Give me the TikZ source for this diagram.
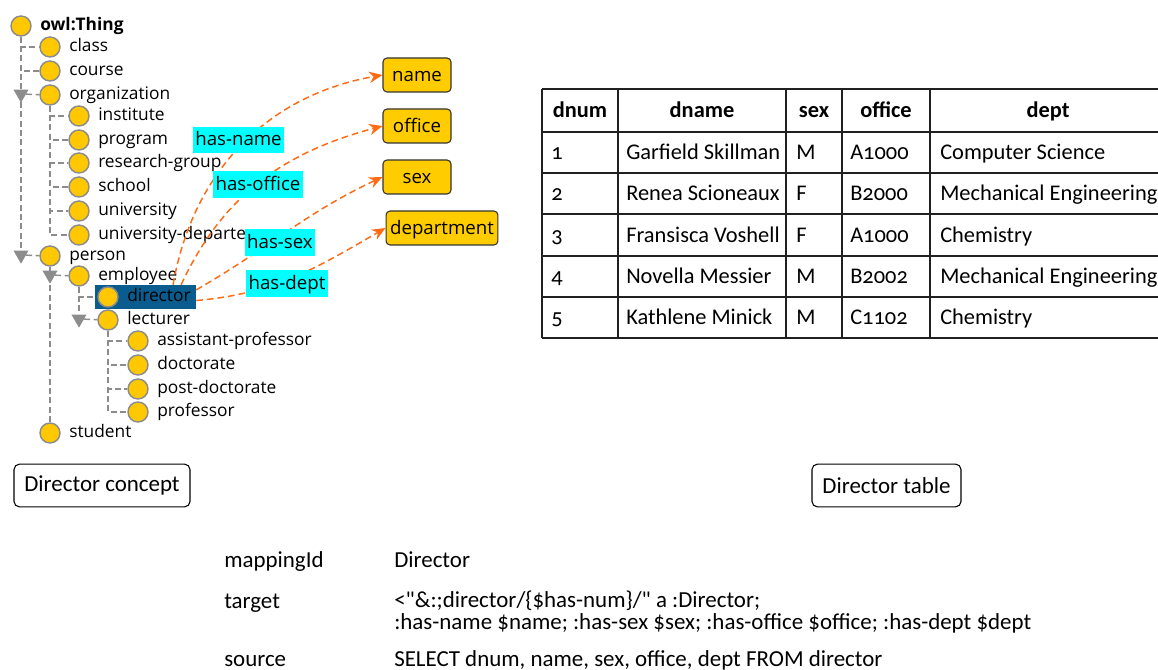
\documentclass[tikz,border=0pt]{standalone}
\usepackage{fontspec}
\setmainfont{Open Sans}
\newfontfamily\tabfont{Carlito}[Numbers=OldStyle]
\newfontfamily\capfont{Carlito}
\usetikzlibrary{arrows.meta,shapes.geometric,backgrounds}
\definecolor{clsfill}{HTML}{FFC800}
\definecolor{clsdraw}{HTML}{8C8C8C}
\definecolor{propfill}{HTML}{FFCC00}
\definecolor{arrorange}{HTML}{FF6A13}
\definecolor{lblcyan}{HTML}{00FFFF}
\definecolor{selblue}{HTML}{0B5C8E}
\definecolor{treeline}{HTML}{8C8C8C}
\definecolor{tabline}{HTML}{202020}
\tikzset{
  cls/.style={circle, draw=clsdraw, line width=1.1pt, fill=clsfill, minimum size=15pt, inner sep=0pt},
  clstxt/.style={anchor=west, inner sep=0pt, font=\fontsize{13}{15}\selectfont, text height=7pt, text depth=0pt},
  tri/.style={regular polygon, regular polygon sides=3, shape border rotate=180, fill=treeline, minimum size=13pt, inner sep=0pt},
  treeedge/.style={draw=treeline, line width=1.1pt, dash pattern=on 4.5pt off 2.5pt},
  prop/.style={rectangle, rounded corners=3pt, draw=black!80, line width=0.8pt, fill=propfill, font=\fontsize{14}{17}\selectfont, minimum height=25.5pt, minimum width=51pt, inner xsep=3pt, text height=12pt, text depth=2pt},
  lbl/.style={fill=lblcyan, font=\fontsize{14}{17}\selectfont, inner xsep=2pt, inner ysep=0pt, minimum height=20pt, text height=11pt, text depth=2.5pt},
  arr/.style={draw=arrorange, line width=1.1pt, dash pattern=on 5pt off 3pt, -{Stealth[length=10pt,width=8.5pt]}},
  tabtxt/.style={anchor=west, inner sep=0pt, font=\tabfont\fontsize{16.8}{19}\selectfont, text height=10.8pt, text depth=0pt},
  tabhead/.style={inner sep=0pt, font=\tabfont\fontsize{16.8}{19}\selectfont\bfseries, text height=10.8pt, text depth=0pt},
  tabrule/.style={draw=tabline, line width=1.1pt},
  caption/.style={rectangle, rounded corners=4pt, draw=black, line width=0.8pt, minimum height=32pt, font=\capfont\fontsize{17.2}{20}\selectfont},
  maptxt/.style={anchor=base west, inner sep=0pt, font=\capfont\fontsize{17.2}{20}\selectfont},
}
\newcommand\treeitem[3]{%
  \node[cls] (#1) at (#2) {};
  \node[clstxt] (#1-t) at ([xshift=14.25pt]#1.center) {#3};}
\begin{document}
\begin{tikzpicture}[x=0.75pt,y=-0.75pt]
\useasboundingbox (0,0) rectangle (1158,670);

% ---------- tree ----------
\node[cls] (thing) at (21,26) {};
\node[clstxt, font=\fontsize{13}{15}\selectfont\bfseries] (thing-t) at ([xshift=14.25pt]thing.center) {owl:Thing};
\treeitem{class}{50,47}{class}
\treeitem{course}{50,71}{course}
\treeitem{org}{50,95}{organization}
\treeitem{inst}{79,116}{institute}
\treeitem{prog}{79,140}{program}
\treeitem{rg}{79,163}{research-group}
\treeitem{school}{79,187}{school}
\treeitem{univ}{79,211}{university}
\treeitem{ud}{79,235}{university-departe}
\treeitem{person}{50,256}{person}
\treeitem{emp}{79,276}{employee}
\treeitem{dir}{108,297}{director}
\treeitem{lect}{108,320}{lecturer}
\treeitem{ap}{138,341}{assistant-professor}
\treeitem{doc}{138,365}{doctorate}
\treeitem{pd}{138,389}{post-doctorate}
\treeitem{prof}{138,412}{professor}
\treeitem{student}{50,433}{student}
\node[tri] (orgT) at (21,94) {};
\node[tri] (personT) at (21,255) {};
\node[tri] (empT) at (50,275) {};
\node[tri] (lectT) at (79,319) {};

\begin{pgfonlayer}{background}
  \draw[treeedge] (thing) -- (personT);
  \draw[treeedge] (thing) |- (class);
  \draw[treeedge] (thing) |- (course);
  \draw[treeedge] (orgT) -- (org);
  \foreach \c in {inst,prog,rg,school,univ,ud} \draw[treeedge] (org) |- (\c);
  \draw[treeedge] (personT) -- (person);
  \draw[treeedge] (person) -- (student);
  \draw[treeedge] (empT) -- (emp);
  \draw[treeedge] (emp) |- (dir);
  \draw[treeedge] (emp) -- (lectT);
  \draw[treeedge] (lectT) -- (lect);
  \foreach \c in {ap,doc,pd,prof} \draw[treeedge] (lect) |- (\c);
  \node[fill=selblue, minimum width=75.75pt, minimum height=18pt, inner sep=0pt] (dirsel) at (145.5,297) {};
\end{pgfonlayer}

% ---------- properties ----------
\node[prop] (pname) at (417,75) {name};
\node[prop] (poffice) at (417,126) {office};
\node[prop] (psex) at (417,177) {sex};
\node[prop] (pdept) at (442,228) {department};

\draw[arr] (dirsel.24) to[out=80,in=190] (pname.west);
\draw[arr] (dirsel.19) to[out=65,in=195] (poffice.west);
\draw[arr] (dirsel.8) to[out=30,in=205] (psex.west);
\draw[arr] (dirsel.-4) to[out=5,in=210] (pdept.west);

\node[lbl] (lname) at (238.5,140) {has-name};
\node[lbl] (loffice) at (258,184.5) {has-office};
\node[lbl] (lsex) at (280,242.5) {has-sex};
\node[lbl] (ldept) at (287,283.5) {has-dept};

% ---------- table ----------
\foreach \y in {89,132,173,214,256,297,338} \draw[tabrule] (542,\y) -- (1170,\y);
\foreach \x in {542,618,786,842,930} \draw[tabrule] (\x,89) -- (\x,338);
\node[tabhead] (h1) at (580,110.5) {dnum};
\node[tabhead] (h2) at (702,110.5) {dname};
\node[tabhead] (h3) at (814,110.5) {sex};
\node[tabhead] (h4) at (886,110.5) {office};
\node[tabhead] (h5) at (1048,110.5) {dept};
\node[tabtxt] (r1a) at (551,152.5) {1};
\node[tabtxt] (r1b) at (626,152.5) {Garfield Skillman};
\node[tabtxt] (r1c) at (796,152.5) {M};
\node[tabtxt] (r1d) at (850,152.5) {A1000};
\node[tabtxt] (r1e) at (940,152.5) {Computer Science};
\node[tabtxt] (r2a) at (551,193.5) {2};
\node[tabtxt] (r2b) at (626,193.5) {Renea Scioneaux};
\node[tabtxt] (r2c) at (796,193.5) {F};
\node[tabtxt] (r2d) at (850,193.5) {B2000};
\node[tabtxt] (r2e) at (940,193.5) {Mechanical Engineering};
\node[tabtxt] (r3a) at (551,235) {3};
\node[tabtxt] (r3b) at (626,235) {Fransisca Voshell};
\node[tabtxt] (r3c) at (796,235) {F};
\node[tabtxt] (r3d) at (850,235) {A1000};
\node[tabtxt] (r3e) at (940,235) {Chemistry};
\node[tabtxt] (r4a) at (551,276.5) {4};
\node[tabtxt] (r4b) at (626,276.5) {Novella Messier};
\node[tabtxt] (r4c) at (796,276.5) {M};
\node[tabtxt] (r4d) at (850,276.5) {B2002};
\node[tabtxt] (r4e) at (940,276.5) {Mechanical Engineering};
\node[tabtxt] (r5a) at (551,317.5) {5};
\node[tabtxt] (r5b) at (626,317.5) {Kathlene Minick};
\node[tabtxt] (r5c) at (796,317.5) {M};
\node[tabtxt] (r5d) at (850,317.5) {C1102};
\node[tabtxt] (r5e) at (940,317.5) {Chemistry};

% ---------- captions ----------
\node[caption, minimum width=132pt] (capc) at (102,485.5) {Director concept};
\node[caption, minimum width=111.75pt] (capt) at (886.5,485.5) {Director table};

% ---------- mapping ----------
\node[maptxt] (k1) at (224,567) {mappingId};
\node[maptxt] (v1) at (394,567) {Director};
\node[maptxt] (k2) at (224,609) {target};
\node[maptxt] (v2) at (394,607) {<"\&:;director/\{\$has-num\}/" a :Director;};
\node[maptxt] (v2b) at (394,629) {:has-name \$name; :has-sex \$sex; :has-office \$office; :has-dept \$dept};
\node[maptxt] (k3) at (224,666) {source};
\node[maptxt] (v3) at (394,666) {SELECT dnum, name, sex, office, dept FROM director};
\end{tikzpicture}
\end{document}
